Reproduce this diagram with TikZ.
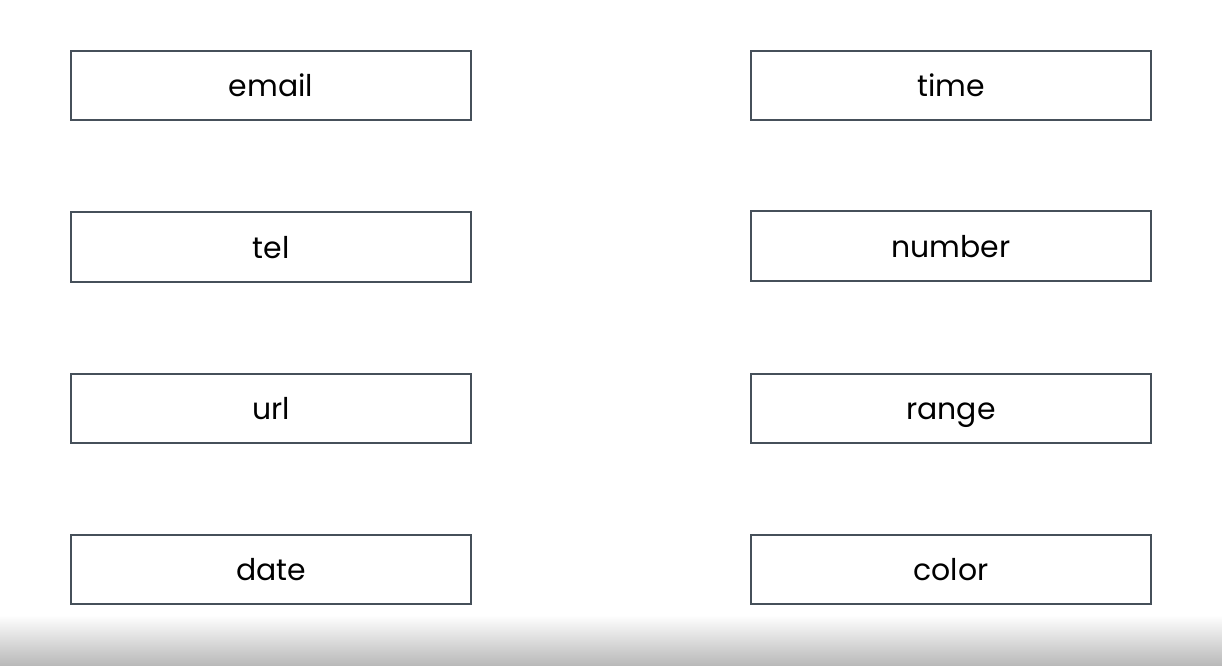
\documentclass[tikz,border=0pt]{standalone}
\usepackage{fontspec}
\setmainfont{Poppins}
\definecolor{boxline}{HTML}{46505A}
\definecolor{bandgray}{HTML}{B8B8B8}
\begin{document}
\begin{tikzpicture}[x=1bp,y=-1bp,
  itembox/.style={draw=boxline,line width=2bp,fill=white,minimum width=400bp,minimum height=69bp,inner sep=0pt,font=\fontsize{30}{34}\selectfont,text=black,text height=22bp,text depth=0pt}]
\useasboundingbox (0,0) rectangle (1222,666);
\fill[white] (0,0) rectangle (1222,666);
\shade[top color=white,bottom color=bandgray] (0,615) rectangle (1222,666);
\node[itembox] (email) at (271,86) {email};
\node[itembox] (tel) at (271,247) {tel};
\node[itembox] (url) at (271,408) {url};
\node[itembox] (date) at (271,569) {date};
\node[itembox] (time) at (951,86) {time};
\node[itembox] (number) at (951,246) {number};
\node[itembox] (range) at (951,408) {range};
\node[itembox] (color) at (951,569) {color};
\end{tikzpicture}
\end{document}
